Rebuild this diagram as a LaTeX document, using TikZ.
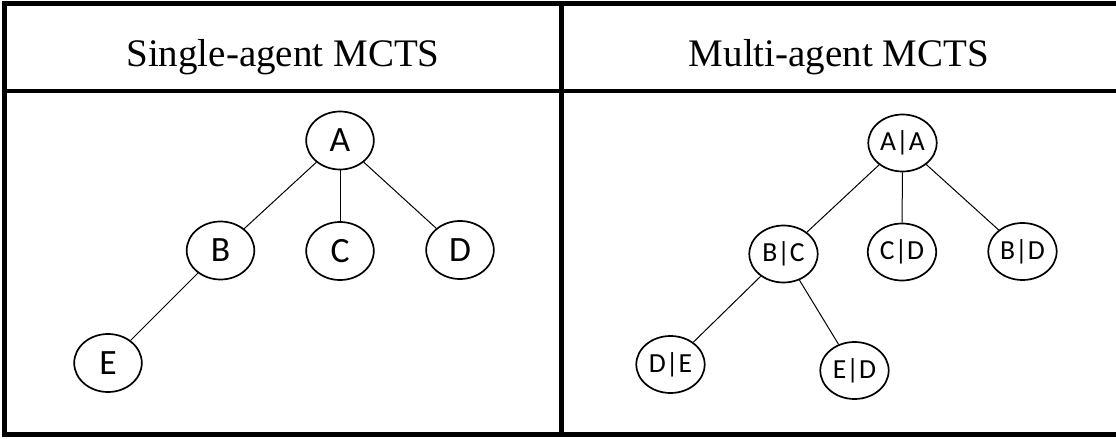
\documentclass[tikz,border=0pt]{standalone}
\usepackage{fontspec}
\setmainfont{Liberation Serif}
\newfontfamily\nodefont{Carlito}
\usetikzlibrary{shapes.geometric}
\begin{document}
\begin{tikzpicture}[x=0.5pt,y=-0.5pt,
  frame/.style={line width=2.25pt,line cap=rect},
  heading/.style={anchor=base,font=\fontsize{19.5}{23}\selectfont},
  bignode/.style={ellipse,draw,line width=0.85pt,inner sep=0pt,
    minimum width=33.8pt,minimum height=29pt,
    font=\nodefont\fontsize{17.8}{21}\selectfont},
  pairnode/.style={ellipse,draw,line width=0.85pt,inner sep=0pt,
    minimum width=34.2pt,minimum height=28.5pt,
    font=\nodefont\fontsize{13.8}{16}\selectfont},
  edge/.style={line width=0.5pt}]
\useasboundingbox (0,0) rectangle (1116,439);

% table frame
\draw[frame] (4.5,3.5) rectangle (1118,434.5);
\draw[frame] (4.5,91) -- (1118,91);
\draw[frame] (561.5,3.5) -- (561.5,434.5);

% headings
\node[heading] (h1) at (283,66) {Single-agent MCTS};
\node[heading] (h2) at (839,66) {Multi-agent MCTS};

% single-agent tree
\node[bignode] (A) at (340,140.5) {A};
\node[bignode] (B) at (220.5,250.5) {B};
\node[bignode] (C) at (340,251) {C};
\node[bignode] (D) at (460,250) {D};
\node[bignode] (E) at (108,363) {E};
\draw[edge] (A) -- (B);
\draw[edge] (A) -- (C);
\draw[edge] (A) -- (D);
\draw[edge] (B) -- (E);

% multi-agent tree
\node[pairnode] (AA) at (902.5,143) {A|A};
\node[pairnode] (BC) at (783.5,254) {B|C};
\node[pairnode] (CD) at (902,252) {C|D};
\node[pairnode] (BD) at (1022.5,251.5) {B|D};
\node[pairnode] (DE) at (670.5,364.5) {D|E};
\node[pairnode] (ED) at (854.5,370.5) {E|D};
\draw[edge] (AA) -- (BC);
\draw[edge] (AA) -- (CD);
\draw[edge] (AA) -- (BD);
\draw[edge] (BC) -- (DE);
\draw[edge] (BC) -- (ED);
\end{tikzpicture}
\end{document}
